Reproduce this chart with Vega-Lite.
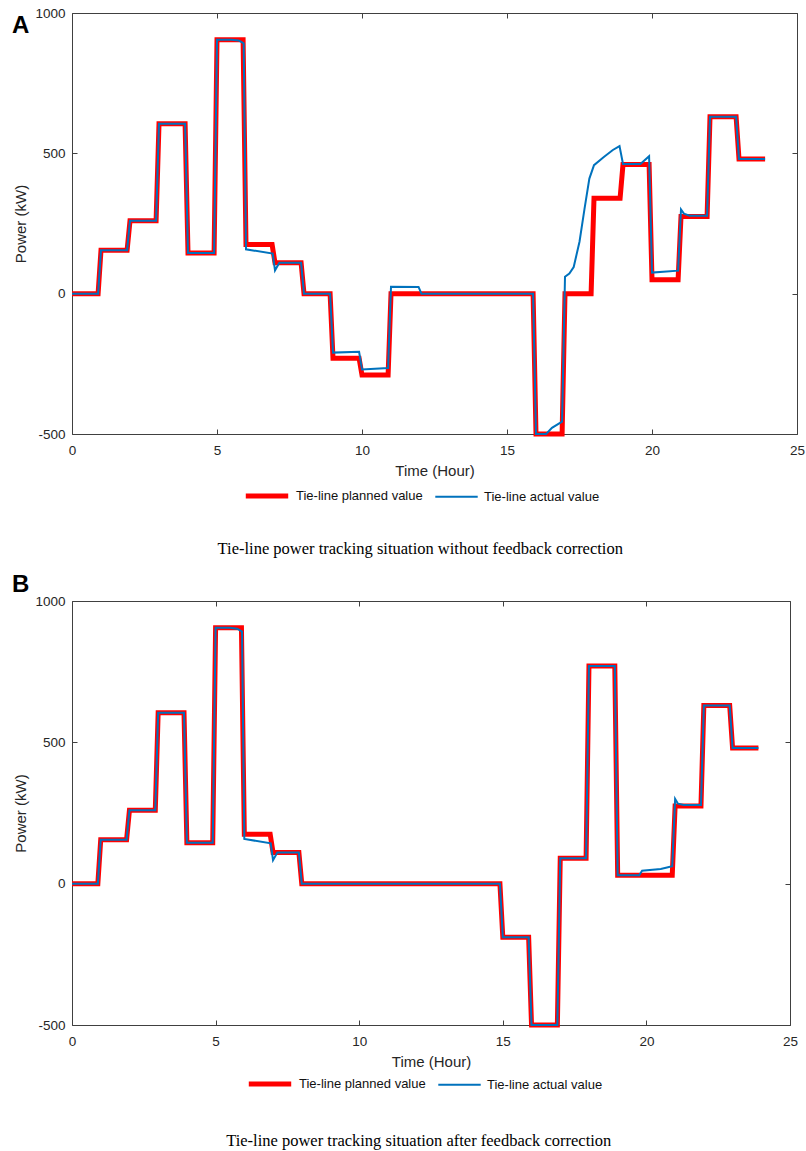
{
  "$schema": "https://vega.github.io/schema/vega-lite/v6.json",
  "padding": {"left": 12, "top": 6, "right": 5, "bottom": 0},
  "background": "white",
  "config": {
    "view": {"stroke": null},
    "font": "Liberation Sans",
    "axis": {
      "domainColor": "#404040", "tickColor": "#404040", "labelColor": "#262626", "titleColor": "#262626",
      "labelFont": "Liberation Sans", "titleFont": "Liberation Sans", "labelFontSize": 13.5, "titleFontSize": 15,
      "titleFontWeight": "normal", "grid": false, "tickSize": -5, "domainWidth": 1, "tickWidth": 1, "labelFlush": false
    },
    "legend": {
      "orient": "none", "direction": "horizontal", "title": null, "labelFont": "Liberation Sans", "labelFontSize": 13,
      "labelColor": "#111111", "symbolType": "stroke", "symbolSize": 1800, "labelOffset": 5, "columnPadding": 8,
      "padding": 0
    },
    "concat": {"spacing": 15}
  },
  "datasets": {
    "a": [
      {"s": "Tie-line planned value", "t": 0, "p": 0}, {"s": "Tie-line planned value", "t": 0.9, "p": 0},
      {"s": "Tie-line planned value", "t": 1, "p": 155}, {"s": "Tie-line planned value", "t": 1.9, "p": 155},
      {"s": "Tie-line planned value", "t": 2, "p": 260}, {"s": "Tie-line planned value", "t": 2.9, "p": 260},
      {"s": "Tie-line planned value", "t": 3, "p": 605}, {"s": "Tie-line planned value", "t": 3.9, "p": 605},
      {"s": "Tie-line planned value", "t": 4, "p": 145}, {"s": "Tie-line planned value", "t": 4.9, "p": 145},
      {"s": "Tie-line planned value", "t": 5, "p": 905}, {"s": "Tie-line planned value", "t": 5.9, "p": 905},
      {"s": "Tie-line planned value", "t": 6, "p": 175}, {"s": "Tie-line planned value", "t": 6.9, "p": 175},
      {"s": "Tie-line planned value", "t": 7, "p": 110}, {"s": "Tie-line planned value", "t": 7.9, "p": 110},
      {"s": "Tie-line planned value", "t": 8, "p": 0}, {"s": "Tie-line planned value", "t": 8.9, "p": 0},
      {"s": "Tie-line planned value", "t": 9, "p": -230}, {"s": "Tie-line planned value", "t": 9.9, "p": -230},
      {"s": "Tie-line planned value", "t": 10, "p": -290}, {"s": "Tie-line planned value", "t": 10.9, "p": -290},
      {"s": "Tie-line planned value", "t": 11, "p": 0}, {"s": "Tie-line planned value", "t": 15.9, "p": 0},
      {"s": "Tie-line planned value", "t": 16, "p": -500}, {"s": "Tie-line planned value", "t": 16.9, "p": -500},
      {"s": "Tie-line planned value", "t": 17, "p": 0}, {"s": "Tie-line planned value", "t": 17.9, "p": 0},
      {"s": "Tie-line planned value", "t": 18, "p": 340}, {"s": "Tie-line planned value", "t": 18.9, "p": 340},
      {"s": "Tie-line planned value", "t": 19, "p": 460}, {"s": "Tie-line planned value", "t": 19.9, "p": 460},
      {"s": "Tie-line planned value", "t": 20, "p": 50}, {"s": "Tie-line planned value", "t": 20.9, "p": 50},
      {"s": "Tie-line planned value", "t": 21, "p": 275}, {"s": "Tie-line planned value", "t": 21.9, "p": 275},
      {"s": "Tie-line planned value", "t": 22, "p": 630}, {"s": "Tie-line planned value", "t": 22.9, "p": 630},
      {"s": "Tie-line planned value", "t": 23, "p": 480}, {"s": "Tie-line planned value", "t": 23.9, "p": 480},
      {"s": "Tie-line actual value", "t": 0, "p": 0}, {"s": "Tie-line actual value", "t": 0.9, "p": 0},
      {"s": "Tie-line actual value", "t": 1, "p": 155}, {"s": "Tie-line actual value", "t": 1.9, "p": 155},
      {"s": "Tie-line actual value", "t": 2, "p": 260}, {"s": "Tie-line actual value", "t": 2.9, "p": 260},
      {"s": "Tie-line actual value", "t": 3, "p": 605}, {"s": "Tie-line actual value", "t": 3.9, "p": 605},
      {"s": "Tie-line actual value", "t": 4, "p": 145}, {"s": "Tie-line actual value", "t": 4.9, "p": 145},
      {"s": "Tie-line actual value", "t": 5, "p": 905}, {"s": "Tie-line actual value", "t": 5.5, "p": 905},
      {"s": "Tie-line actual value", "t": 5.75, "p": 902}, {"s": "Tie-line actual value", "t": 5.92, "p": 892},
      {"s": "Tie-line actual value", "t": 6, "p": 158}, {"s": "Tie-line actual value", "t": 6.92, "p": 143},
      {"s": "Tie-line actual value", "t": 7, "p": 83}, {"s": "Tie-line actual value", "t": 7.15, "p": 110},
      {"s": "Tie-line actual value", "t": 7.9, "p": 110}, {"s": "Tie-line actual value", "t": 8, "p": 0},
      {"s": "Tie-line actual value", "t": 8.9, "p": 0}, {"s": "Tie-line actual value", "t": 9, "p": -210},
      {"s": "Tie-line actual value", "t": 9.9, "p": -207}, {"s": "Tie-line actual value", "t": 10, "p": -270},
      {"s": "Tie-line actual value", "t": 10.9, "p": -265}, {"s": "Tie-line actual value", "t": 11, "p": 25},
      {"s": "Tie-line actual value", "t": 11.95, "p": 24}, {"s": "Tie-line actual value", "t": 12.05, "p": 0},
      {"s": "Tie-line actual value", "t": 15.9, "p": 0}, {"s": "Tie-line actual value", "t": 16, "p": -500},
      {"s": "Tie-line actual value", "t": 16.35, "p": -500}, {"s": "Tie-line actual value", "t": 16.55, "p": -478},
      {"s": "Tie-line actual value", "t": 16.9, "p": -456}, {"s": "Tie-line actual value", "t": 17, "p": 60},
      {"s": "Tie-line actual value", "t": 17.15, "p": 72}, {"s": "Tie-line actual value", "t": 17.3, "p": 95},
      {"s": "Tie-line actual value", "t": 17.5, "p": 185}, {"s": "Tie-line actual value", "t": 17.67, "p": 300},
      {"s": "Tie-line actual value", "t": 17.84, "p": 410}, {"s": "Tie-line actual value", "t": 18, "p": 458},
      {"s": "Tie-line actual value", "t": 18.35, "p": 488}, {"s": "Tie-line actual value", "t": 18.65, "p": 512},
      {"s": "Tie-line actual value", "t": 18.88, "p": 526}, {"s": "Tie-line actual value", "t": 19, "p": 462},
      {"s": "Tie-line actual value", "t": 19.6, "p": 462}, {"s": "Tie-line actual value", "t": 19.9, "p": 490},
      {"s": "Tie-line actual value", "t": 20, "p": 75}, {"s": "Tie-line actual value", "t": 20.9, "p": 82},
      {"s": "Tie-line actual value", "t": 21, "p": 300}, {"s": "Tie-line actual value", "t": 21.1, "p": 285},
      {"s": "Tie-line actual value", "t": 21.3, "p": 278}, {"s": "Tie-line actual value", "t": 21.9, "p": 278},
      {"s": "Tie-line actual value", "t": 22, "p": 630}, {"s": "Tie-line actual value", "t": 22.9, "p": 630},
      {"s": "Tie-line actual value", "t": 23, "p": 480}, {"s": "Tie-line actual value", "t": 23.9, "p": 480}
    ],
    "b": [
      {"s": "Tie-line planned value", "t": 0, "p": 0}, {"s": "Tie-line planned value", "t": 0.9, "p": 0},
      {"s": "Tie-line planned value", "t": 1, "p": 155}, {"s": "Tie-line planned value", "t": 1.9, "p": 155},
      {"s": "Tie-line planned value", "t": 2, "p": 260}, {"s": "Tie-line planned value", "t": 2.9, "p": 260},
      {"s": "Tie-line planned value", "t": 3, "p": 605}, {"s": "Tie-line planned value", "t": 3.9, "p": 605},
      {"s": "Tie-line planned value", "t": 4, "p": 145}, {"s": "Tie-line planned value", "t": 4.9, "p": 145},
      {"s": "Tie-line planned value", "t": 5, "p": 905}, {"s": "Tie-line planned value", "t": 5.9, "p": 905},
      {"s": "Tie-line planned value", "t": 6, "p": 175}, {"s": "Tie-line planned value", "t": 6.9, "p": 175},
      {"s": "Tie-line planned value", "t": 7, "p": 110}, {"s": "Tie-line planned value", "t": 7.9, "p": 110},
      {"s": "Tie-line planned value", "t": 8, "p": 0}, {"s": "Tie-line planned value", "t": 14.9, "p": 0},
      {"s": "Tie-line planned value", "t": 15, "p": -190}, {"s": "Tie-line planned value", "t": 15.9, "p": -190},
      {"s": "Tie-line planned value", "t": 16, "p": -500}, {"s": "Tie-line planned value", "t": 16.9, "p": -500},
      {"s": "Tie-line planned value", "t": 17, "p": 90}, {"s": "Tie-line planned value", "t": 17.9, "p": 90},
      {"s": "Tie-line planned value", "t": 18, "p": 770}, {"s": "Tie-line planned value", "t": 18.9, "p": 770},
      {"s": "Tie-line planned value", "t": 19, "p": 30}, {"s": "Tie-line planned value", "t": 20.9, "p": 30},
      {"s": "Tie-line planned value", "t": 21, "p": 275}, {"s": "Tie-line planned value", "t": 21.9, "p": 275},
      {"s": "Tie-line planned value", "t": 22, "p": 630}, {"s": "Tie-line planned value", "t": 22.9, "p": 630},
      {"s": "Tie-line planned value", "t": 23, "p": 480}, {"s": "Tie-line planned value", "t": 23.9, "p": 480},
      {"s": "Tie-line actual value", "t": 0, "p": 0}, {"s": "Tie-line actual value", "t": 0.9, "p": 0},
      {"s": "Tie-line actual value", "t": 1, "p": 155}, {"s": "Tie-line actual value", "t": 1.9, "p": 155},
      {"s": "Tie-line actual value", "t": 2, "p": 260}, {"s": "Tie-line actual value", "t": 2.9, "p": 260},
      {"s": "Tie-line actual value", "t": 3, "p": 605}, {"s": "Tie-line actual value", "t": 3.9, "p": 605},
      {"s": "Tie-line actual value", "t": 4, "p": 145}, {"s": "Tie-line actual value", "t": 4.9, "p": 145},
      {"s": "Tie-line actual value", "t": 5, "p": 905}, {"s": "Tie-line actual value", "t": 5.5, "p": 905},
      {"s": "Tie-line actual value", "t": 5.75, "p": 902}, {"s": "Tie-line actual value", "t": 5.92, "p": 892},
      {"s": "Tie-line actual value", "t": 6, "p": 158}, {"s": "Tie-line actual value", "t": 6.92, "p": 143},
      {"s": "Tie-line actual value", "t": 7, "p": 83}, {"s": "Tie-line actual value", "t": 7.15, "p": 110},
      {"s": "Tie-line actual value", "t": 7.9, "p": 110}, {"s": "Tie-line actual value", "t": 8, "p": 0},
      {"s": "Tie-line actual value", "t": 14.9, "p": 0}, {"s": "Tie-line actual value", "t": 15, "p": -190},
      {"s": "Tie-line actual value", "t": 15.9, "p": -190}, {"s": "Tie-line actual value", "t": 16, "p": -500},
      {"s": "Tie-line actual value", "t": 16.9, "p": -500}, {"s": "Tie-line actual value", "t": 17, "p": 90},
      {"s": "Tie-line actual value", "t": 17.9, "p": 90}, {"s": "Tie-line actual value", "t": 18, "p": 770},
      {"s": "Tie-line actual value", "t": 18.9, "p": 770}, {"s": "Tie-line actual value", "t": 19, "p": 30},
      {"s": "Tie-line actual value", "t": 19.75, "p": 30}, {"s": "Tie-line actual value", "t": 19.85, "p": 46},
      {"s": "Tie-line actual value", "t": 20.5, "p": 52}, {"s": "Tie-line actual value", "t": 20.9, "p": 62},
      {"s": "Tie-line actual value", "t": 21, "p": 300}, {"s": "Tie-line actual value", "t": 21.1, "p": 283},
      {"s": "Tie-line actual value", "t": 21.3, "p": 278}, {"s": "Tie-line actual value", "t": 21.9, "p": 278},
      {"s": "Tie-line actual value", "t": 22, "p": 630}, {"s": "Tie-line actual value", "t": 22.9, "p": 630},
      {"s": "Tie-line actual value", "t": 23, "p": 480}, {"s": "Tie-line actual value", "t": 23.9, "p": 480}
    ]
  },
  "resolve": {"scale": {"color": "independent", "strokeWidth": "independent"}},
  "vconcat": [
    {
      "title": {"text": "Tie-line power tracking situation without feedback correction", "orient": "bottom", "anchor": "middle", "frame": "bounds", "font": "Liberation Serif", "fontSize": 16.5, "fontWeight": "normal", "color": "#000000", "offset": 35, "dx": 12},
      "resolve": {"scale": {"color": "independent", "strokeWidth": "independent"}},
      "vconcat": [
        {
          "width": 725, "height": 421,
          "title": {"text": "A", "anchor": "start", "frame": "group", "font": "Liberation Sans", "fontSize": 24, "fontWeight": "bold", "color": "#000000", "dx": -60, "dy": 32, "offset": 0},
          "data": {"name": "a"},
          "layer": [
            {
              "transform": [{"filter": "datum.s === 'Tie-line planned value'"}],
              "mark": {"type": "line"},
              "encoding": {
                "x": {"field": "t", "type": "quantitative", "scale": {"domain": [0, 25], "nice": false}, "axis": {"orient": "bottom", "values": [0, 5, 10, 15, 20, 25], "title": "Time (Hour)", "labelPadding": 14, "titlePadding": 7}},
                "y": {"field": "p", "type": "quantitative", "scale": {"domain": [-500, 1000], "nice": false}, "axis": {"orient": "left", "values": [-500, 0, 500, 1000], "title": "Power (kW)", "labelPadding": 12, "titlePadding": 6, "labelExpr": "'' + datum.value"}},
                "color": {"field": "s", "type": "nominal", "scale": {"domain": ["Tie-line planned value", "Tie-line actual value"], "range": ["#ff0000", "#0072bd"]}, "legend": {"legendX": 171, "legendY": 459}},
                "strokeWidth": {"field": "s", "type": "nominal", "scale": {"type": "ordinal", "domain": ["Tie-line planned value", "Tie-line actual value"], "range": [5, 2]}, "legend": {"legendX": 171, "legendY": 459}}
              }
            },
            {
              "transform": [{"filter": "datum.s === 'Tie-line actual value'"}],
              "mark": {"type": "line"},
              "encoding": {
                "x": {"field": "t", "type": "quantitative", "scale": {"domain": [0, 25], "nice": false}, "axis": {"orient": "top", "values": [0, 5, 10, 15, 20, 25], "labels": false, "title": null}},
                "y": {"field": "p", "type": "quantitative", "scale": {"domain": [-500, 1000], "nice": false}, "axis": {"orient": "right", "values": [-500, 0, 500, 1000], "labels": false, "title": null}},
                "color": {"field": "s", "type": "nominal", "scale": {"domain": ["Tie-line planned value", "Tie-line actual value"], "range": ["#ff0000", "#0072bd"]}, "legend": {"legendX": 171, "legendY": 459}},
                "strokeWidth": {"field": "s", "type": "nominal", "scale": {"type": "ordinal", "domain": ["Tie-line planned value", "Tie-line actual value"], "range": [5, 2]}, "legend": {"legendX": 171, "legendY": 459}}
              }
            }
          ],
          "resolve": {"axis": {"x": "independent", "y": "independent"}}
        }
      ]
    },
    {
      "title": {"text": "Tie-line power tracking situation after feedback correction", "orient": "bottom", "anchor": "middle", "frame": "bounds", "font": "Liberation Serif", "fontSize": 16.5, "fontWeight": "normal", "color": "#000000", "offset": 39, "dx": 14},
      "resolve": {"scale": {"color": "independent", "strokeWidth": "independent"}},
      "vconcat": [
        {
          "width": 718, "height": 424,
          "title": {"text": "B", "anchor": "start", "frame": "group", "font": "Liberation Sans", "fontSize": 24, "fontWeight": "bold", "color": "#000000", "dx": -60, "dy": 3, "offset": 0},
          "data": {"name": "b"},
          "layer": [
            {
              "transform": [{"filter": "datum.s === 'Tie-line planned value'"}],
              "mark": {"type": "line"},
              "encoding": {
                "x": {"field": "t", "type": "quantitative", "scale": {"domain": [0, 25], "nice": false}, "axis": {"orient": "bottom", "values": [0, 5, 10, 15, 20, 25], "title": "Time (Hour)", "labelPadding": 14, "titlePadding": 7}},
                "y": {"field": "p", "type": "quantitative", "scale": {"domain": [-500, 1000], "nice": false}, "axis": {"orient": "left", "values": [-500, 0, 500, 1000], "title": "Power (kW)", "labelPadding": 12, "titlePadding": 6, "labelExpr": "'' + datum.value"}},
                "color": {"field": "s", "type": "nominal", "scale": {"domain": ["Tie-line planned value", "Tie-line actual value"], "range": ["#ff0000", "#0072bd"]}, "legend": {"legendX": 174, "legendY": 459}},
                "strokeWidth": {"field": "s", "type": "nominal", "scale": {"type": "ordinal", "domain": ["Tie-line planned value", "Tie-line actual value"], "range": [5, 2]}, "legend": {"legendX": 174, "legendY": 459}}
              }
            },
            {
              "transform": [{"filter": "datum.s === 'Tie-line actual value'"}],
              "mark": {"type": "line"},
              "encoding": {
                "x": {"field": "t", "type": "quantitative", "scale": {"domain": [0, 25], "nice": false}, "axis": {"orient": "top", "values": [0, 5, 10, 15, 20, 25], "labels": false, "title": null}},
                "y": {"field": "p", "type": "quantitative", "scale": {"domain": [-500, 1000], "nice": false}, "axis": {"orient": "right", "values": [-500, 0, 500, 1000], "labels": false, "title": null}},
                "color": {"field": "s", "type": "nominal", "scale": {"domain": ["Tie-line planned value", "Tie-line actual value"], "range": ["#ff0000", "#0072bd"]}, "legend": {"legendX": 174, "legendY": 459}},
                "strokeWidth": {"field": "s", "type": "nominal", "scale": {"type": "ordinal", "domain": ["Tie-line planned value", "Tie-line actual value"], "range": [5, 2]}, "legend": {"legendX": 174, "legendY": 459}}
              }
            }
          ],
          "resolve": {"axis": {"x": "independent", "y": "independent"}}
        }
      ]
    }
  ]
}
